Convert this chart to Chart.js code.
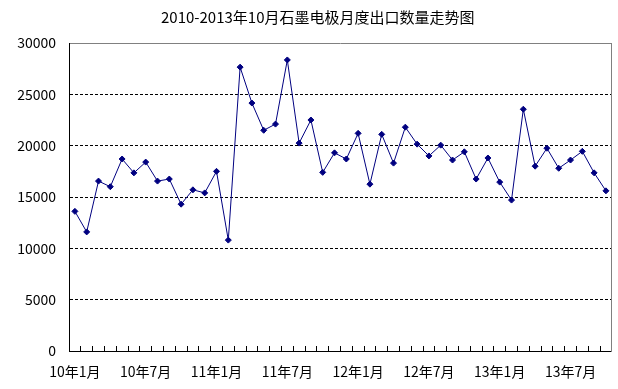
<!DOCTYPE html>
<html>
<head>
<meta charset="utf-8">
<script src="https://cdn.jsdelivr.net/npm/chart.js@4"></script>
<style>
  body { margin: 0; background: #fff; }
  #wrap { position: relative; width: 618px; height: 389px; }
  #title {
    position: absolute; left: 161px; top: 9px;
    font: 15px 'Noto Sans CJK SC', sans-serif; line-height: 15px; color: #000;
    white-space: nowrap;
  }
</style>
</head>
<body>
<div id="wrap">
  <canvas id="chart" width="618" height="389"></canvas>
  <div id="title">2010-2013年10月石墨电极月度出口数量走势图</div>
</div>
<script>
// monthly categories, 2010-01 .. 2013-10
const months = [
  '10年1月', '10年2月', '10年3月', '10年4月', '10年5月', '10年6月',
  '10年7月', '10年8月', '10年9月', '10年10月', '10年11月', '10年12月',
  '11年1月', '11年2月', '11年3月', '11年4月', '11年5月', '11年6月',
  '11年7月', '11年8月', '11年9月', '11年10月', '11年11月', '11年12月',
  '12年1月', '12年2月', '12年3月', '12年4月', '12年5月', '12年6月',
  '12年7月', '12年8月', '12年9月', '12年10月', '12年11月', '12年12月',
  '13年1月', '13年2月', '13年3月', '13年4月', '13年5月', '13年6月',
  '13年7月', '13年8月', '13年9月', '13年10月'
];

// export quantity per month
const exports = [
  13600, 11600, 16550, 16000, 18700, 17350, 18400, 16550, 16750, 14300, 15700, 15400,
  17500, 10800, 27650, 24150, 21500, 22100, 28350, 20250, 22500, 17400, 19300, 18700,
  21200, 16250, 21100, 18300, 21800, 20150, 19000, 20050, 18600, 19400, 16750, 18800,
  16450, 14700, 23550, 18000, 19750, 17800, 18600, 19450, 17350, 15600
];

// x labels shown under the axis
const tickLabels = ['10年1月', '10年7月', '11年1月', '11年7月', '12年1月', '12年7月', '13年1月', '13年7月'];

const FONT = { family: "'Noto Sans CJK SC', sans-serif", size: 14 };
const NAVY = '#000080';

new Chart(document.getElementById('chart').getContext('2d'), {
  type: 'line',
  data: {
    labels: months,
    datasets: [{
      label: '出口数量',
      data: exports,
      borderColor: NAVY,
      borderWidth: 1,
      backgroundColor: NAVY,
      pointStyle: 'rectRot',
      pointRadius: 3,
      pointBorderWidth: 1,
      pointBackgroundColor: NAVY,
      pointBorderColor: NAVY,
      tension: 0
    }]
  },
  options: {
    responsive: false,
    animation: false,
    layout: { padding: { top: 43, right: 5, left: 0, bottom: 0 } },
    plugins: { legend: { display: false }, tooltip: { enabled: false } },
    scales: {
      x: {
        type: 'category',
        offset: true,
        ticks: { display: false, autoSkip: false },
        grid: { offset: true, drawOnChartArea: false, drawTicks: true, tickLength: -5, color: '#000', tickColor: '#000' },
        border: { color: '#000', width: 1 },
        afterFit: (s) => { s.height = 0; }
      },
      xLabels: {
        type: 'category',
        position: 'bottom',
        offset: true,
        grid: { display: false, drawTicks: false },
        border: { display: false },
        ticks: {
          autoSkip: false,
          maxRotation: 0,
          padding: 12,
          color: '#000',
          font: FONT,
          callback: (v, i) => tickLabels.includes(months[i]) ? months[i] : ''
        },
        afterFit: (s) => { s.height = 38; }
      },
      xTop: {
        type: 'linear',
        position: 'top',
        display: true,
        grid: { display: false },
        ticks: { display: false },
        border: { color: '#808080', width: 1 },
        afterFit: (s) => { s.height = 0; }
      },
      y: {
        min: 0,
        max: 30000,
        ticks: {
          stepSize: 5000,
          padding: 13,
          color: '#000',
          font: FONT,
          callback: (v) => String(v)
        },
        grid: {
          drawTicks: false,
          color: (ctx) => (ctx.tick && (ctx.tick.value === 0 || ctx.tick.value === 30000)) ? 'rgba(0,0,0,0)' : '#000'
        },
        border: { color: '#000', width: 1, dash: [3, 2] },
        afterFit: (s) => { s.width = 69; }
      },
      yRight: {
        type: 'linear',
        position: 'right',
        display: true,
        grid: { display: false },
        ticks: { display: false },
        border: { color: '#808080', width: 1 },
        afterFit: (s) => { s.width = 0; }
      }
    }
  }
});
</script>
</body>
</html>
